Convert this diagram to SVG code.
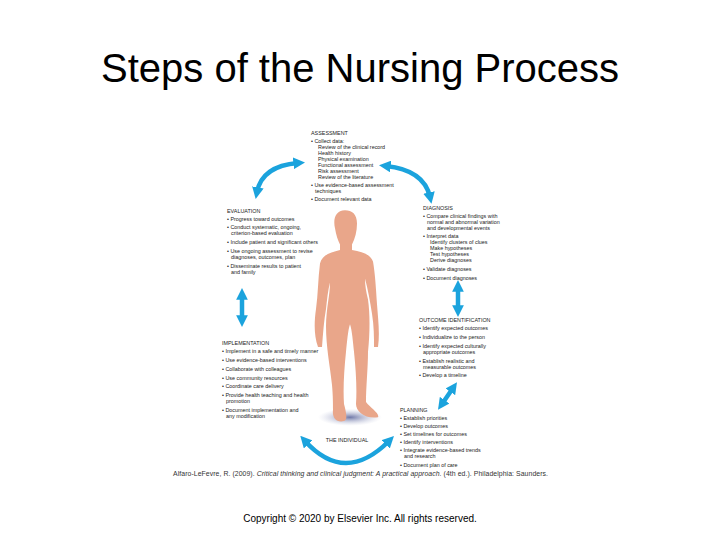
<svg xmlns="http://www.w3.org/2000/svg" width="720" height="540" viewBox="0 0 720 540">
<style>
.t{font-family:"Liberation Sans",Arial,sans-serif;font-size:5.4px;fill:#222}
.h{font-family:"Liberation Sans",Arial,sans-serif;font-size:5.4px;fill:#222}
.a{fill:none;stroke:#1ba3dd;stroke-width:4.5;marker-start:url(#m);marker-end:url(#m)}
</style>
<defs>
<marker id="m" viewBox="0 0 10 10" refX="4" refY="5" markerWidth="2.6" markerHeight="2.6" orient="auto-start-reverse" markerUnits="strokeWidth">
<path d="M0,0L10,5L0,10z" fill="#1ba3dd"/></marker>
<radialGradient id="sh"><stop offset="0" stop-color="#6f78a8"/><stop offset="1" stop-color="#c8cce0" stop-opacity="0"/></radialGradient>
</defs>
<rect width="720" height="540" fill="#fff"/>
<text x="360" y="82" text-anchor="middle" font-family="Liberation Sans,Arial,sans-serif" font-size="40" fill="#000">Steps of the Nursing Process</text>

<g id="connectors">
<path class="a" d="M257,192 Q262,166 298,163"/>
<path class="a" d="M386,166 Q424,170 430,197"/>
<path class="a" d="M458,287 L458,310"/>
<path class="a" d="M242,295 L242,320"/>
<path class="a" d="M453,388 L442,404"/>
<path class="a" d="M305,441 Q345,485 389,441"/>
</g>

<g id="individual" transform="matrix(1,0,0,0.95,0,24)">
<ellipse cx="350" cy="414" rx="32" ry="9" fill="url(#sh)"/>
<path fill="#e9a68a" d="M345,196 C335,196 333,206 335,215 C336,222 338,228 340,232 L340,238 C330,241 322,243 320,252 C318,268 318,285 316,300 C314,315 314,328 318,340 L322,340 C323,325 324,312 326,300 C327,290 328,280 330,272 C330,285 326,300 326,318 C326,340 330,360 332,380 C333,392 333,400 333,406 C332,414 336,420 344,418 C348,417 346,408 344,400 C343,385 344,365 346,345 C347,335 348,322 350,316 C352,322 353,335 354,345 C356,365 357,385 356,400 C356,408 365,416 378,414 C380,410 370,404 366,398 C366,382 368,362 368,345 C370,325 370,305 368,290 C366,282 365,275 365,268 C368,280 370,292 372,305 C374,318 374,330 374,340 L378,340 C380,325 378,310 377,295 C376,278 375,262 373,250 C370,242 362,240 352,238 L352,232 C355,226 357,218 357,210 C357,200 352,196 345,196Z"/>
</g>

<g id="assessment">
<text class="h" x="311" y="135">ASSESSMENT</text>
<text class="t" x="311" y="143">• Collect data:</text>
<text class="t" x="318" y="149">Review of the clinical record</text>
<text class="t" x="318" y="155">Health history</text>
<text class="t" x="318" y="161">Physical examination</text>
<text class="t" x="318" y="167">Functional assessment</text>
<text class="t" x="318" y="173">Risk assessment</text>
<text class="t" x="318" y="179">Review of the literature</text>
<text class="t" x="311" y="187">• Use evidence-based assessment</text>
<text class="t" x="315" y="193">techniques</text>
<text class="t" x="311" y="201">• Document relevant data</text>
</g>

<g id="diagnosis">
<text class="h" x="423" y="210">DIAGNOSIS</text>
<text class="t" x="423" y="218">• Compare clinical findings with</text>
<text class="t" x="427" y="224">normal and abnormal variation</text>
<text class="t" x="427" y="230">and developmental events</text>
<text class="t" x="423" y="238">• Interpret data</text>
<text class="t" x="430" y="244">Identify clusters of clues</text>
<text class="t" x="430" y="250">Make hypotheses</text>
<text class="t" x="430" y="256">Test hypotheses</text>
<text class="t" x="430" y="262">Derive diagnoses</text>
<text class="t" x="423" y="271">• Validate diagnoses</text>
<text class="t" x="423" y="280">• Document diagnoses</text>
</g>

<g id="outcome">
<text class="h" x="419" y="322">OUTCOME IDENTIFICATION</text>
<text class="t" x="419" y="330">• Identify expected outcomes</text>
<text class="t" x="419" y="339">• Individualize to the person</text>
<text class="t" x="419" y="348">• Identify expected culturally</text>
<text class="t" x="423" y="354">appropriate outcomes</text>
<text class="t" x="419" y="363">• Establish realistic and</text>
<text class="t" x="423" y="369">measurable outcomes</text>
<text class="t" x="419" y="377">• Develop a timeline</text>
</g>

<g id="planning">
<text class="h" x="400" y="412">PLANNING</text>
<text class="t" x="400" y="420">• Establish priorities</text>
<text class="t" x="400" y="428">• Develop outcomes</text>
<text class="t" x="400" y="436">• Set timelines for outcomes</text>
<text class="t" x="400" y="444">• Identify interventions</text>
<text class="t" x="400" y="452">• Integrate evidence-based trends</text>
<text class="t" x="404" y="458">and research</text>
<text class="t" x="400" y="467">• Document plan of care</text>
</g>

<g id="evaluation">
<text class="h" x="227" y="213">EVALUATION</text>
<text class="t" x="227" y="221">• Progress toward outcomes</text>
<text class="t" x="227" y="229">• Conduct systematic, ongoing,</text>
<text class="t" x="231" y="235">criterion-based evaluation</text>
<text class="t" x="227" y="244">• Include patient and significant others</text>
<text class="t" x="227" y="253">• Use ongoing assessment to revise</text>
<text class="t" x="231" y="259">diagnoses, outcomes, plan</text>
<text class="t" x="227" y="268">• Disseminate results to patient</text>
<text class="t" x="231" y="274">and family</text>
</g>

<g id="implementation">
<text class="h" x="222" y="345">IMPLEMENTATION</text>
<text class="t" x="222" y="353">• Implement in a safe and timely manner</text>
<text class="t" x="222" y="362">• Use evidence-based interventions</text>
<text class="t" x="222" y="371">• Collaborate with colleagues</text>
<text class="t" x="222" y="380">• Use community resources</text>
<text class="t" x="222" y="388">• Coordinate care delivery</text>
<text class="t" x="222" y="397">• Provide health teaching and health</text>
<text class="t" x="226" y="403">promotion</text>
<text class="t" x="222" y="412">• Document implementation and</text>
<text class="t" x="226" y="418">any modification</text>
</g>

<text class="h" x="347" y="442" text-anchor="middle">THE INDIVIDUAL</text>

<text x="173" y="476" font-family="Liberation Sans,Arial,sans-serif" font-size="6.9" fill="#333" textLength="375">Alfaro-LeFevre, R. (2009). <tspan font-style="italic">Critical thinking and clinical judgment: A practical approach.</tspan> (4th ed.). Philadelphia: Saunders.</text>
<text x="360" y="522" text-anchor="middle" font-family="Liberation Sans,Arial,sans-serif" font-size="10" fill="#000">Copyright © 2020 by Elsevier Inc. All rights reserved.</text>
</svg>
